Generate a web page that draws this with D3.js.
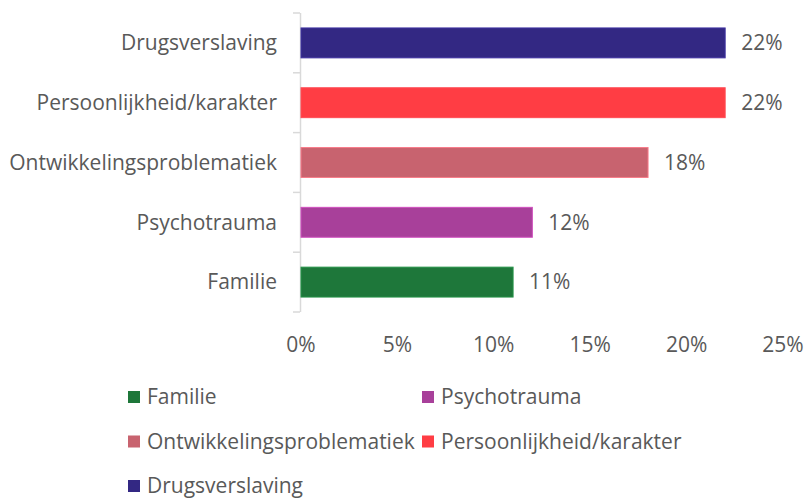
<!DOCTYPE html>
<html><head><meta charset="utf-8">
<script src="https://cdn.jsdelivr.net/npm/d3@7"></script>
<style>body{margin:0;background:#fff;} text{font-family:"Open Sans",sans-serif;fill:#595959;}</style>
</head><body><svg id="c" width="807" height="501"></svg>
<script>
const categories = ["Drugsverslaving","Persoonlijkheid/karakter","Ontwikkelingsproblematiek","Psychotrauma","Familie"];
const values = [22,22,18,12,11];
const colors = ["#332883","#ff3d44","#c8636f","#a8409a","#1e773a"];
const ticks = [0,5,10,15,20,25];
const legendOrder = ["Familie","Psychotrauma","Ontwikkelingsproblematiek","Persoonlijkheid/karakter","Drugsverslaving"];

const svg = d3.select("#c");
const x = d3.scaleLinear().domain([0,25]).range([301,783]);
const y = d3.scaleBand().domain(categories).range([13,312]).paddingInner(0.5).paddingOuter(0.25);
const color = d3.scaleOrdinal().domain(categories).range(colors);
const fs = 21;

svg.append("line").attr("x1",300.5).attr("x2",300.5).attr("y1",13).attr("y2",312).attr("stroke","#d9d9d9").attr("stroke-width",1.5);
const bounds = [13].concat(categories.map(c=>y(c)+y.step()*0.75));
svg.selectAll(".tk").data(bounds).join("line").attr("x1",293).attr("x2",300)
  .attr("y1",d=>d).attr("y2",d=>d).attr("stroke","#d9d9d9").attr("stroke-width",1.5);

svg.selectAll(".cl").data(categories).join("text")
  .attr("x",277).attr("y",d=>y(d)+y.bandwidth()/2).attr("dy","0.35em")
  .attr("text-anchor","end").attr("font-size",fs).text(d=>d);

svg.selectAll(".bar").data(values).join("rect")
  .attr("x",x(0)).attr("y",(d,i)=>y(categories[i]))
  .attr("width",d=>x(d)-x(0)).attr("height",y.bandwidth())
  .attr("fill",(d,i)=>color(categories[i]))
  .attr("stroke",(d,i)=>d3.color(color(categories[i])).brighter(0.6))
  .attr("stroke-width",1);

svg.selectAll(".vl").data(values).join("text")
  .attr("x",d=>x(d)+16).attr("y",(d,i)=>y(categories[i])+y.bandwidth()/2).attr("dy","0.35em")
  .attr("font-size",fs).text(d=>d+"%");

svg.selectAll(".xl").data(ticks).join("text")
  .attr("x",d=>x(d)).attr("y",345).attr("dy","0.35em").attr("text-anchor","middle")
  .attr("font-size",fs).text(d=>d+"%");

const lg = svg.selectAll(".lg").data(legendOrder).join("g")
  .attr("transform",(d,i)=>`translate(${i%2===0?128:422},${397+Math.floor(i/2)*44.5})`);
lg.append("rect").attr("x",0).attr("y",-6).attr("width",12).attr("height",12).attr("fill",d=>color(d));
lg.append("text").attr("x",19).attr("y",0).attr("dy","0.35em").attr("font-size",fs).text(d=>d);
</script></body></html>
